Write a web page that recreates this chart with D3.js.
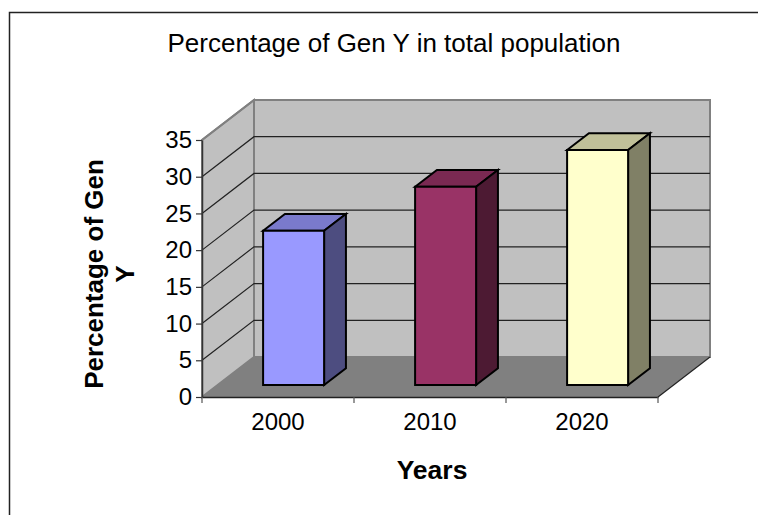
<!DOCTYPE html>
<html><head><meta charset="utf-8">
<script src="https://cdnjs.cloudflare.com/ajax/libs/d3/7.9.0/d3.min.js"></script>
<style>
html,body{margin:0;padding:0;background:#fff}
svg{display:block}
text{font-family:"Liberation Sans",Arial,sans-serif;fill:#000}
</style></head><body>
<svg id="chart" width="758" height="515"></svg>
<script>
// Values and labels
const categories = ["2000", "2010", "2020"];
const percentages = [21, 27, 32];
const yTicks = [0, 5, 10, 15, 20, 25, 30, 35];
const faceColours = ["#9999ff", "#993366", "#ffffcc"];
const sideColours = ["#4d4d80", "#4d1a33", "#808066"];
const topColours = ["#7a7acc", "#7a2952", "#c0c099"];
const chartTitle = "Percentage of Gen Y in total population";
const yTitleLines = ["Percentage of Gen", "Y"];
const xTitle = "Years";

const svg = d3.select("#chart");
const plot = {left: 202, right: 658, top: 140, bottom: 397};
const depthX = 52, depthY = -40;

const x = d3.scaleBand().domain(categories).range([plot.left, plot.right]).paddingInner(0).paddingOuter(0);
const y = d3.scaleLinear().domain([0, 35]).range([plot.bottom, plot.top]);
// Depth runs from the front edge of the floor (0) to the back wall (1)
const dx = d3.scaleLinear().domain([0, 1]).range([0, depthX]);
const dy = d3.scaleLinear().domain([0, 1]).range([0, depthY]);
const pt = (px, py, d) => [px + dx(d), py + dy(d)];
const poly = pts => pts.map(p => p.join(",")).join(" ");

// Outer frame, open on the right and bottom
svg.append("path").attr("d", "M9.5,515V12.5H758").attr("fill", "none").attr("stroke", "#222").attr("stroke-width", 1.5);

// Back wall, side wall, floor
svg.append("polygon").attr("points", poly([pt(plot.left, y(35), 1), pt(plot.right, y(35), 1), pt(plot.right, y(0), 1), pt(plot.left, y(0), 1)]))
  .attr("fill", "#c0c0c0").attr("stroke", "#808080").attr("stroke-width", 2);
svg.append("polygon").attr("points", poly([pt(plot.left, y(35), 0), pt(plot.left, y(35), 1), pt(plot.left, y(0), 1), pt(plot.left, y(0), 0)]))
  .attr("fill", "#c0c0c0").attr("stroke", "#808080").attr("stroke-width", 2);
svg.append("polygon").attr("points", poly([pt(plot.left, y(0), 0), pt(plot.left, y(0), 1), pt(plot.right, y(0), 1), pt(plot.right, y(0), 0)]))
  .attr("fill", "#808080");

// Gridlines wrap from the side wall onto the back wall
svg.append("g").selectAll("polyline").data(yTicks.slice(1, -1).concat(35)).join("polyline")
  .attr("points", v => v === 35
    ? poly([pt(plot.left, y(v), 0), pt(plot.left, y(v), 1)])
    : poly([pt(plot.left, y(v), 0), pt(plot.left, y(v), 1), pt(plot.right, y(v), 1)]))
  .attr("fill", "none").attr("stroke", d => d === 35 ? "#808080" : "#222").attr("stroke-width", d => d === 35 ? 2 : 1.2);
svg.append("line").attr("x1", plot.right).attr("y1", y(0)).attr("x2", plot.right + depthX).attr("y2", y(0) + depthY)
  .attr("stroke", "#222").attr("stroke-width", 1.2);

// Bars as three visible faces of a box
const barWidth = 61, near = 0.3, far = 0.72;
const barLeft = c => x(c) + (x.bandwidth() - barWidth) / 2;
const bars = svg.append("g").selectAll("g").data(categories).join("g")
  .attr("stroke", "#000").attr("stroke-width", 2).attr("stroke-linejoin", "miter");
bars.append("polygon").attr("fill", (c, i) => topColours[i]).attr("points", (c, i) => {
  const l = barLeft(c), r = l + barWidth, t = y(percentages[i]);
  return poly([pt(l, t, near), pt(l, t, far), pt(r, t, far), pt(r, t, near)]);
});
bars.append("polygon").attr("fill", (c, i) => sideColours[i]).attr("points", (c, i) => {
  const r = barLeft(c) + barWidth, t = y(percentages[i]);
  return poly([pt(r, t, near), pt(r, t, far), pt(r, y(0), far), pt(r, y(0), near)]);
});
bars.append("polygon").attr("fill", (c, i) => faceColours[i]).attr("points", (c, i) => {
  const l = barLeft(c), r = l + barWidth, t = y(percentages[i]);
  return poly([pt(l, t, near), pt(r, t, near), pt(r, y(0), near), pt(l, y(0), near)]);
});

// Value axis
const yAxis = svg.append("g").attr("transform", `translate(${plot.left},0)`)
  .call(d3.axisLeft(y).tickValues(yTicks).tickSize(6).tickSizeOuter(0).tickPadding(4));
yAxis.selectAll("text").style("font-size", "24px");
yAxis.select(".domain").attr("stroke", "#333").attr("stroke-width", 1.5);
yAxis.selectAll("line").attr("stroke", "#333").attr("stroke-width", 1.2);

// Category axis
const xAxis = svg.append("g").attr("transform", `translate(0,${plot.bottom})`)
  .call(d3.axisBottom(x).tickSize(0).tickPadding(16));
xAxis.selectAll("text").style("font-size", "24px");
xAxis.select(".domain").attr("stroke", "#222").attr("stroke-width", 1.5);
xAxis.append("g").selectAll("line").data(x.domain().map(c => x(c)).concat(plot.right)).join("line")
  .attr("x1", d => d).attr("x2", d => d).attr("y1", 0).attr("y2", 6)
  .attr("stroke", "#555").attr("stroke-width", 1.2);

// Titles
svg.append("text").attr("x", 394).attr("y", 52).attr("text-anchor", "middle").style("font-size", "26px").text(chartTitle);
svg.append("text").attr("x", 432).attr("y", 479).attr("text-anchor", "middle")
  .style("font-size", "26.5px").style("font-weight", "bold").text(xTitle);
svg.append("text").attr("transform", "translate(103,274) rotate(-90)").attr("text-anchor", "middle")
  .style("font-size", "26px").style("font-weight", "bold")
  .selectAll("tspan").data(yTitleLines).join("tspan")
  .attr("x", 0).attr("dy", (d, i) => i ? 31 : 0).text(d => d);
</script>
</body></html>
